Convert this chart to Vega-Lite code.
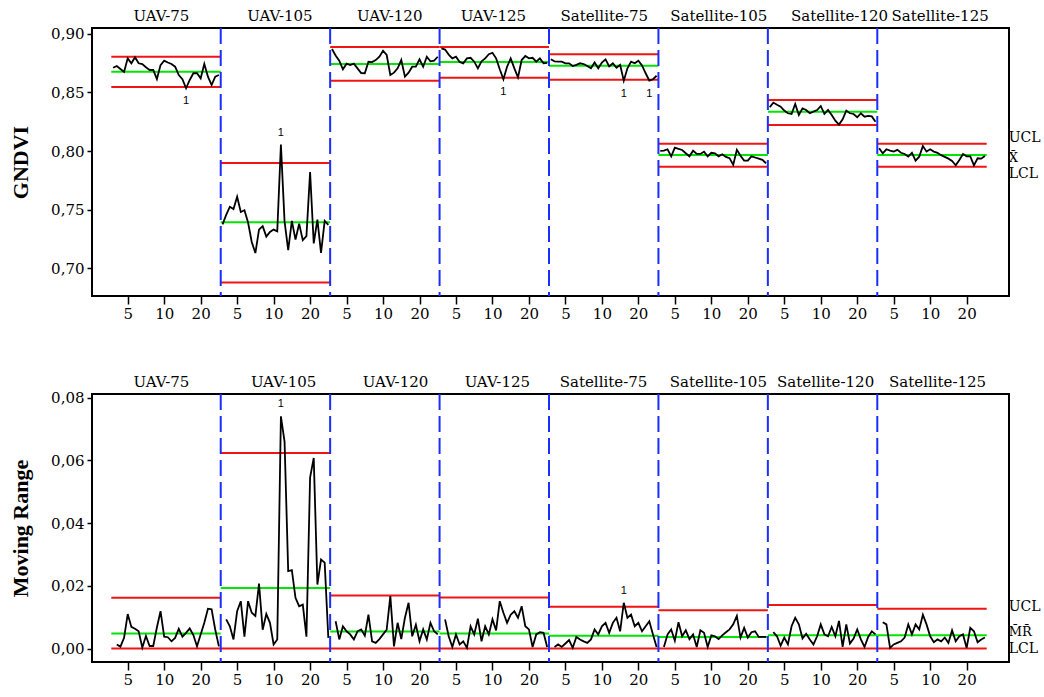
{
"$schema":"https://vega.github.io/schema/vega-lite/v6.json",
"autosize":{"type":"none"},
"padding":{"left":92,"top":28,"right":952,"bottom":669},
"background":"white",
"config":{
 "view":{"stroke":"black","strokeWidth":2},
 "axis":{"grid":false,"domain":false,"labelFont":"DejaVu Serif","labelColor":"black","tickColor":"black","titleFont":"Liberation Serif","titleFontWeight":"bold","titleFontSize":22,"titleColor":"black"},
 "axisY":{"tickCount":5,"tickSize":5,"tickWidth":1.5,"labelFontSize":15,"labelPadding":3,"labelExpr":"replace(format(datum.value, '.2f'), '.', ',')","titleX":-72,"titleAngle":-90,"titleBaseline":"middle","titleAlign":"center"}
},
"datasets":{
"lim":[
{"s":"UAV-75","x0":0.5,"x1":30.5,"iu":0.8804,"ic":0.8676,"il":0.8546,"mu":0.0162,"mc":0.0048,"ml":0},
{"s":"UAV-105","x0":30.5,"x1":60.5,"iu":0.7899,"ic":0.7393,"il":0.6879,"mu":0.0624,"mc":0.0193,"ml":0},
{"s":"UAV-120","x0":60.5,"x1":90.5,"iu":0.8888,"ic":0.8742,"il":0.86,"mu":0.0169,"mc":0.0054,"ml":0},
{"s":"UAV-125","x0":90.5,"x1":120.5,"iu":0.8888,"ic":0.8759,"il":0.8625,"mu":0.0163,"mc":0.0048,"ml":0},
{"s":"Satellite-75","x0":120.5,"x1":150.5,"iu":0.8825,"ic":0.8727,"il":0.8608,"mu":0.0133,"mc":0.0041,"ml":0},
{"s":"Satellite-105","x0":150.5,"x1":180.5,"iu":0.8063,"ic":0.7967,"il":0.7867,"mu":0.0122,"mc":0.0037,"ml":0},
{"s":"Satellite-120","x0":180.5,"x1":210.5,"iu":0.8435,"ic":0.8336,"il":0.8222,"mu":0.0139,"mc":0.0042,"ml":0},
{"s":"Satellite-125","x0":210.5,"x1":240.5,"iu":0.8063,"ic":0.7967,"il":0.7867,"mu":0.0127,"mc":0.0042,"ml":0}
],
"obs":[
{"s":"UAV-75","o":1,"g":0.871,"m":null},
{"s":"UAV-75","o":2,"g":0.8725,"m":0.0013},
{"s":"UAV-75","o":3,"g":0.870,"m":0.0006},
{"s":"UAV-75","o":4,"g":0.8675,"m":0.0034},
{"s":"UAV-75","o":5,"g":0.879,"m":0.011},
{"s":"UAV-75","o":6,"g":0.8748,"m":0.0069},
{"s":"UAV-75","o":7,"g":0.880,"m":0.0063},
{"s":"UAV-75","o":8,"g":0.8748,"m":0.0055},
{"s":"UAV-75","o":9,"g":0.8742,"m":0.0003},
{"s":"UAV-75","o":10,"g":0.8714,"m":0.004},
{"s":"UAV-75","o":11,"g":0.8691,"m":0.0008},
{"s":"UAV-75","o":12,"g":0.8691,"m":0.0008},
{"s":"UAV-75","o":13,"g":0.8614,"m":0.0067},
{"s":"UAV-75","o":14,"g":0.8733,"m":0.0119},
{"s":"UAV-75","o":15,"g":0.877,"m":0.0038},
{"s":"UAV-75","o":16,"g":0.8755,"m":0.0036},
{"s":"UAV-75","o":17,"g":0.8742,"m":0.0023},
{"s":"UAV-75","o":18,"g":0.8719,"m":0.0034},
{"s":"UAV-75","o":19,"g":0.8648,"m":0.0063},
{"s":"UAV-75","o":20,"g":0.8612,"m":0.0038},
{"s":"UAV-75","o":21,"g":0.8535,"m":0.005,"fi":"b"},
{"s":"UAV-75","o":22,"g":0.8606,"m":0.0064},
{"s":"UAV-75","o":23,"g":0.8663,"m":0.0043},
{"s":"UAV-75","o":24,"g":0.8663,"m":0.0007},
{"s":"UAV-75","o":25,"g":0.862,"m":0.0045},
{"s":"UAV-75","o":26,"g":0.8742,"m":0.0082},
{"s":"UAV-75","o":27,"g":0.8634,"m":0.0127},
{"s":"UAV-75","o":28,"g":0.8563,"m":0.0125},
{"s":"UAV-75","o":29,"g":0.8634,"m":0.006},
{"s":"UAV-75","o":30,"g":0.8648,"m":0.0007},
{"s":"UAV-105","o":31,"g":0.7375,"m":null},
{"s":"UAV-105","o":32,"g":0.7455,"m":0.0093},
{"s":"UAV-105","o":33,"g":0.7525,"m":0.0071},
{"s":"UAV-105","o":34,"g":0.7505,"m":0.0029},
{"s":"UAV-105","o":35,"g":0.761,"m":0.0119},
{"s":"UAV-105","o":36,"g":0.748,"m":0.0151},
{"s":"UAV-105","o":37,"g":0.7495,"m":0.0038},
{"s":"UAV-105","o":38,"g":0.739,"m":0.0151},
{"s":"UAV-105","o":39,"g":0.7225,"m":0.0114},
{"s":"UAV-105","o":40,"g":0.713,"m":0.0104},
{"s":"UAV-105","o":41,"g":0.733,"m":0.0207},
{"s":"UAV-105","o":42,"g":0.736,"m":0.006},
{"s":"UAV-105","o":43,"g":0.727,"m":0.011},
{"s":"UAV-105","o":44,"g":0.731,"m":0.0082},
{"s":"UAV-105","o":45,"g":0.733,"m":0.0013},
{"s":"UAV-105","o":46,"g":0.7315,"m":0.0029},
{"s":"UAV-105","o":47,"g":0.8055,"m":0.0741,"fi":"a","fm":"a"},
{"s":"UAV-105","o":48,"g":0.74,"m":0.066},
{"s":"UAV-105","o":49,"g":0.7155,"m":0.0247},
{"s":"UAV-105","o":50,"g":0.7405,"m":0.025},
{"s":"UAV-105","o":51,"g":0.7245,"m":0.0162},
{"s":"UAV-105","o":52,"g":0.738,"m":0.0135},
{"s":"UAV-105","o":53,"g":0.724,"m":0.014},
{"s":"UAV-105","o":54,"g":0.7275,"m":0.0038},
{"s":"UAV-105","o":55,"g":0.782,"m":0.0545},
{"s":"UAV-105","o":56,"g":0.7212,"m":0.0608},
{"s":"UAV-105","o":57,"g":0.7415,"m":0.0204},
{"s":"UAV-105","o":58,"g":0.7132,"m":0.0284},
{"s":"UAV-105","o":59,"g":0.7405,"m":0.0274},
{"s":"UAV-105","o":60,"g":0.737,"m":0.0034},
{"s":"UAV-120","o":61,"g":0.887,"m":null},
{"s":"UAV-120","o":62,"g":0.8815,"m":0.0087},
{"s":"UAV-120","o":63,"g":0.877,"m":0.0029},
{"s":"UAV-120","o":64,"g":0.8697,"m":0.0071},
{"s":"UAV-120","o":65,"g":0.8745,"m":0.0055},
{"s":"UAV-120","o":66,"g":0.8733,"m":0.0045},
{"s":"UAV-120","o":67,"g":0.8745,"m":0.0029},
{"s":"UAV-120","o":68,"g":0.8705,"m":0.0055},
{"s":"UAV-120","o":69,"g":0.8665,"m":0.0061},
{"s":"UAV-120","o":70,"g":0.8663,"m":0.0041},
{"s":"UAV-120","o":71,"g":0.8761,"m":0.0108},
{"s":"UAV-120","o":72,"g":0.8758,"m":0.0023},
{"s":"UAV-120","o":73,"g":0.8775,"m":0.0018},
{"s":"UAV-120","o":74,"g":0.8805,"m":0.003},
{"s":"UAV-120","o":75,"g":0.8855,"m":0.0045},
{"s":"UAV-120","o":76,"g":0.8819,"m":0.006},
{"s":"UAV-120","o":77,"g":0.8648,"m":0.0167},
{"s":"UAV-120","o":78,"g":0.8668,"m":0.0007},
{"s":"UAV-120","o":79,"g":0.8705,"m":0.0082},
{"s":"UAV-120","o":80,"g":0.8776,"m":0.003},
{"s":"UAV-120","o":81,"g":0.8634,"m":0.0098},
{"s":"UAV-120","o":82,"g":0.8668,"m":0.0146},
{"s":"UAV-120","o":83,"g":0.8719,"m":0.0039},
{"s":"UAV-120","o":84,"g":0.8719,"m":0.0076},
{"s":"UAV-120","o":85,"g":0.8782,"m":0.0023},
{"s":"UAV-120","o":86,"g":0.8719,"m":0.0061},
{"s":"UAV-120","o":87,"g":0.8804,"m":0.0029},
{"s":"UAV-120","o":88,"g":0.8765,"m":0.0082},
{"s":"UAV-120","o":89,"g":0.877,"m":0.0055},
{"s":"UAV-120","o":90,"g":0.8804,"m":0.0045},
{"s":"UAV-125","o":91,"g":0.8876,"m":null},
{"s":"UAV-125","o":92,"g":0.8865,"m":0.0093},
{"s":"UAV-125","o":93,"g":0.8822,"m":0.0039},
{"s":"UAV-125","o":94,"g":0.879,"m":0.0005},
{"s":"UAV-125","o":95,"g":0.8804,"m":0.0045},
{"s":"UAV-125","o":96,"g":0.876,"m":0.0013},
{"s":"UAV-125","o":97,"g":0.8748,"m":0.0023},
{"s":"UAV-125","o":98,"g":0.879,"m":0.0002},
{"s":"UAV-125","o":99,"g":0.8795,"m":0.0071},
{"s":"UAV-125","o":100,"g":0.8762,"m":0.0045},
{"s":"UAV-125","o":101,"g":0.8705,"m":0.0095},
{"s":"UAV-125","o":102,"g":0.8765,"m":0.0023},
{"s":"UAV-125","o":103,"g":0.879,"m":0.0071},
{"s":"UAV-125","o":104,"g":0.8825,"m":0.0045},
{"s":"UAV-125","o":105,"g":0.8838,"m":0.0093},
{"s":"UAV-125","o":106,"g":0.879,"m":0.0058},
{"s":"UAV-125","o":107,"g":0.8697,"m":0.0151},
{"s":"UAV-125","o":108,"g":0.8612,"m":0.0114,"fi":"b"},
{"s":"UAV-125","o":109,"g":0.8719,"m":0.0082},
{"s":"UAV-125","o":110,"g":0.879,"m":0.0108},
{"s":"UAV-125","o":111,"g":0.8705,"m":0.0119},
{"s":"UAV-125","o":112,"g":0.8628,"m":0.0098},
{"s":"UAV-125","o":113,"g":0.8776,"m":0.0135},
{"s":"UAV-125","o":114,"g":0.881,"m":0.0071},
{"s":"UAV-125","o":115,"g":0.879,"m":0.0061},
{"s":"UAV-125","o":116,"g":0.8795,"m":0.0005},
{"s":"UAV-125","o":117,"g":0.8762,"m":0.0045},
{"s":"UAV-125","o":118,"g":0.879,"m":0.0052},
{"s":"UAV-125","o":119,"g":0.8748,"m":0.005},
{"s":"UAV-125","o":120,"g":0.8752,"m":0.0005},
{"s":"Satellite-75","o":121,"g":0.8782,"m":null},
{"s":"Satellite-75","o":122,"g":0.8765,"m":0.0005},
{"s":"Satellite-75","o":123,"g":0.8762,"m":0.0013},
{"s":"Satellite-75","o":124,"g":0.8762,"m":0.0005},
{"s":"Satellite-75","o":125,"g":0.8748,"m":0.0016},
{"s":"Satellite-75","o":126,"g":0.8748,"m":0.0027},
{"s":"Satellite-75","o":127,"g":0.8725,"m":0.0002},
{"s":"Satellite-75","o":128,"g":0.8735,"m":0.0037},
{"s":"Satellite-75","o":129,"g":0.8748,"m":0.0029},
{"s":"Satellite-75","o":130,"g":0.8742,"m":0.0023},
{"s":"Satellite-75","o":131,"g":0.8725,"m":0.0018},
{"s":"Satellite-75","o":132,"g":0.8705,"m":0.0029},
{"s":"Satellite-75","o":133,"g":0.8755,"m":0.0061},
{"s":"Satellite-75","o":134,"g":0.8705,"m":0.0045},
{"s":"Satellite-75","o":135,"g":0.8755,"m":0.0071},
{"s":"Satellite-75","o":136,"g":0.8782,"m":0.0082},
{"s":"Satellite-75","o":137,"g":0.8722,"m":0.005},
{"s":"Satellite-75","o":138,"g":0.8748,"m":0.0082},
{"s":"Satellite-75","o":139,"g":0.871,"m":0.0098},
{"s":"Satellite-75","o":140,"g":0.8735,"m":0.0055},
{"s":"Satellite-75","o":141,"g":0.86,"m":0.0146,"fi":"b","fm":"a"},
{"s":"Satellite-75","o":142,"g":0.8705,"m":0.0098},
{"s":"Satellite-75","o":143,"g":0.8762,"m":0.0108},
{"s":"Satellite-75","o":144,"g":0.8748,"m":0.0071},
{"s":"Satellite-75","o":145,"g":0.877,"m":0.0082},
{"s":"Satellite-75","o":146,"g":0.873,"m":0.0055},
{"s":"Satellite-75","o":147,"g":0.8663,"m":0.0071},
{"s":"Satellite-75","o":148,"g":0.86,"m":0.0087,"fi":"b"},
{"s":"Satellite-75","o":149,"g":0.8612,"m":0.0045},
{"s":"Satellite-75","o":150,"g":0.8642,"m":0.0005},
{"s":"Satellite-105","o":151,"g":0.8001,"m":null},
{"s":"Satellite-105","o":152,"g":0.8003,"m":0.0005},
{"s":"Satellite-105","o":153,"g":0.8015,"m":0.0045},
{"s":"Satellite-105","o":154,"g":0.7955,"m":0.0061},
{"s":"Satellite-105","o":155,"g":0.8029,"m":0.0025},
{"s":"Satellite-105","o":156,"g":0.8018,"m":0.0084},
{"s":"Satellite-105","o":157,"g":0.8009,"m":0.0039},
{"s":"Satellite-105","o":158,"g":0.7981,"m":0.0058},
{"s":"Satellite-105","o":159,"g":0.7955,"m":0.003},
{"s":"Satellite-105","o":160,"g":0.8003,"m":0.0045},
{"s":"Satellite-105","o":161,"g":0.7975,"m":0.0005},
{"s":"Satellite-105","o":162,"g":0.7975,"m":0.0058},
{"s":"Satellite-105","o":163,"g":0.7995,"m":0.005},
{"s":"Satellite-105","o":164,"g":0.7955,"m":0.0005},
{"s":"Satellite-105","o":165,"g":0.7985,"m":0.0042},
{"s":"Satellite-105","o":166,"g":0.7981,"m":0.0039},
{"s":"Satellite-105","o":167,"g":0.7955,"m":0.003},
{"s":"Satellite-105","o":168,"g":0.7973,"m":0.0042},
{"s":"Satellite-105","o":169,"g":0.795,"m":0.0052},
{"s":"Satellite-105","o":170,"g":0.7939,"m":0.0061},
{"s":"Satellite-105","o":171,"g":0.7882,"m":0.0077},
{"s":"Satellite-105","o":172,"g":0.801,"m":0.0104},
{"s":"Satellite-105","o":173,"g":0.796,"m":0.0035},
{"s":"Satellite-105","o":174,"g":0.7918,"m":0.0066},
{"s":"Satellite-105","o":175,"g":0.7918,"m":0.0035},
{"s":"Satellite-105","o":176,"g":0.7955,"m":0.0052},
{"s":"Satellite-105","o":177,"g":0.7945,"m":0.0055},
{"s":"Satellite-105","o":178,"g":0.7935,"m":0.0037},
{"s":"Satellite-105","o":179,"g":0.7925,"m":0.0037},
{"s":"Satellite-105","o":180,"g":0.7896,"m":0.0037},
{"s":"Satellite-120","o":181,"g":0.8373,"m":null},
{"s":"Satellite-120","o":182,"g":0.8413,"m":0.0052},
{"s":"Satellite-120","o":183,"g":0.8395,"m":0.0039},
{"s":"Satellite-120","o":184,"g":0.8378,"m":0.0009},
{"s":"Satellite-120","o":185,"g":0.8345,"m":0.0035},
{"s":"Satellite-120","o":186,"g":0.8322,"m":0.0013},
{"s":"Satellite-120","o":187,"g":0.8316,"m":0.0071},
{"s":"Satellite-120","o":188,"g":0.8401,"m":0.0098},
{"s":"Satellite-120","o":189,"g":0.8307,"m":0.0077},
{"s":"Satellite-120","o":190,"g":0.8364,"m":0.0032},
{"s":"Satellite-120","o":191,"g":0.835,"m":0.0047},
{"s":"Satellite-120","o":192,"g":0.8322,"m":0.0029},
{"s":"Satellite-120","o":193,"g":0.8336,"m":0.0013},
{"s":"Satellite-120","o":194,"g":0.835,"m":0.0039},
{"s":"Satellite-120","o":195,"g":0.8384,"m":0.0077},
{"s":"Satellite-120","o":196,"g":0.8316,"m":0.0045},
{"s":"Satellite-120","o":197,"g":0.835,"m":0.0039},
{"s":"Satellite-120","o":198,"g":0.8307,"m":0.0069},
{"s":"Satellite-120","o":199,"g":0.8259,"m":0.0039},
{"s":"Satellite-120","o":200,"g":0.8226,"m":0.0088},
{"s":"Satellite-120","o":201,"g":0.8271,"m":0.0005},
{"s":"Satellite-120","o":202,"g":0.8345,"m":0.0077},
{"s":"Satellite-120","o":203,"g":0.8322,"m":0.0016},
{"s":"Satellite-120","o":204,"g":0.8316,"m":0.0032},
{"s":"Satellite-120","o":205,"g":0.8288,"m":0.0061},
{"s":"Satellite-120","o":206,"g":0.8322,"m":0.0029},
{"s":"Satellite-120","o":207,"g":0.8293,"m":0.0005},
{"s":"Satellite-120","o":208,"g":0.8299,"m":0.0037},
{"s":"Satellite-120","o":209,"g":0.8295,"m":0.0055},
{"s":"Satellite-120","o":210,"g":0.825,"m":0.0045},
{"s":"Satellite-125","o":211,"g":0.8024,"m":null},
{"s":"Satellite-125","o":212,"g":0.7981,"m":0.0084},
{"s":"Satellite-125","o":213,"g":0.8015,"m":0.0077},
{"s":"Satellite-125","o":214,"g":0.8004,"m":0.0002},
{"s":"Satellite-125","o":215,"g":0.7995,"m":0.0013},
{"s":"Satellite-125","o":216,"g":0.801,"m":0.0018},
{"s":"Satellite-125","o":217,"g":0.7985,"m":0.0023},
{"s":"Satellite-125","o":218,"g":0.7975,"m":0.0035},
{"s":"Satellite-125","o":219,"g":0.7952,"m":0.0077},
{"s":"Satellite-125","o":220,"g":0.7985,"m":0.0045},
{"s":"Satellite-125","o":221,"g":0.7918,"m":0.0077},
{"s":"Satellite-125","o":222,"g":0.7952,"m":0.0061},
{"s":"Satellite-125","o":223,"g":0.8043,"m":0.0108},
{"s":"Satellite-125","o":224,"g":0.7995,"m":0.0077},
{"s":"Satellite-125","o":225,"g":0.8015,"m":0.0039},
{"s":"Satellite-125","o":226,"g":0.7995,"m":0.002},
{"s":"Satellite-125","o":227,"g":0.7985,"m":0.0029},
{"s":"Satellite-125","o":228,"g":0.7965,"m":0.0023},
{"s":"Satellite-125","o":229,"g":0.795,"m":0.0035},
{"s":"Satellite-125","o":230,"g":0.7935,"m":0.0018},
{"s":"Satellite-125","o":231,"g":0.7915,"m":0.0058},
{"s":"Satellite-125","o":232,"g":0.7878,"m":0.0023},
{"s":"Satellite-125","o":233,"g":0.7924,"m":0.0039},
{"s":"Satellite-125","o":234,"g":0.7975,"m":0.0045},
{"s":"Satellite-125","o":235,"g":0.7955,"m":0.0002},
{"s":"Satellite-125","o":236,"g":0.7955,"m":0.0066},
{"s":"Satellite-125","o":237,"g":0.7878,"m":0.0055},
{"s":"Satellite-125","o":238,"g":0.7938,"m":0.002},
{"s":"Satellite-125","o":239,"g":0.7935,"m":0.0029},
{"s":"Satellite-125","o":240,"g":0.7958,"m":0.0035}
]
},
"bounds":"flush",
"spacing":98,
"resolve":{"scale":{"x":"independent","y":"independent"}},
"vconcat":[
{
 "width":917,"height":268,
 "resolve":{"axis":{"x":"independent"}},
 "layer":[
  {"data":{"name":"lim"},"mark":{"type":"rule","color":"#f01414","strokeWidth":2},
   "encoding":{"x":{"field":"x0","type":"quantitative","scale":{"domain":[-4.79,246.61],"nice":false,"zero":false},
     "axis":{"orient":"top","title":null,"values":[14.1,46.6,76.7,105.1,135.5,166.9,200,227.6],"ticks":false,"labelPadding":5,"labelFontSize":15,"labelOverlap":false,"labelFlush":false,
       "labelExpr":"datum.value < 30 ? 'UAV-75' : datum.value < 60 ? 'UAV-105' : datum.value < 90 ? 'UAV-120' : datum.value < 120 ? 'UAV-125' : datum.value < 150 ? 'Satellite-75' : datum.value < 180 ? 'Satellite-105' : datum.value < 210 ? 'Satellite-120' : 'Satellite-125'"}},
    "x2":{"field":"x1"},
    "y":{"field":"iu","type":"quantitative","title":"GNDVI","scale":{"domain":[0.6764,0.9049],"nice":false,"zero":false}}}},
  {"data":{"name":"lim"},"mark":{"type":"rule","color":"#00e600","strokeWidth":2},
   "encoding":{"x":{"field":"x0","type":"quantitative","scale":{"domain":[-4.79,246.61],"nice":false,"zero":false},"axis":null},
    "x2":{"field":"x1"},
    "y":{"field":"ic","type":"quantitative","title":"GNDVI","scale":{"domain":[0.6764,0.9049],"nice":false,"zero":false}}}},
  {"data":{"name":"lim"},"mark":{"type":"rule","color":"#f01414","strokeWidth":2},
   "encoding":{"x":{"field":"x0","type":"quantitative","scale":{"domain":[-4.79,246.61],"nice":false,"zero":false},"axis":null},
    "x2":{"field":"x1"},
    "y":{"field":"il","type":"quantitative","title":"GNDVI","scale":{"domain":[0.6764,0.9049],"nice":false,"zero":false}}}},
  {"data":{"name":"lim"},"transform":[{"filter":"datum.x0 > 1"}],"mark":{"type":"rule","color":"#1a2eff","strokeWidth":2,"strokeDash":[16,6]},
   "encoding":{"x":{"field":"x0","type":"quantitative","scale":{"domain":[-4.79,246.61],"nice":false,"zero":false},"axis":null}}},
  {"data":{"name":"obs"},"mark":{"type":"line","color":"black","strokeWidth":1.8},
   "encoding":{"x":{"field":"o","type":"quantitative","scale":{"domain":[-4.79,246.61],"nice":false,"zero":false},
     "axis":{"orient":"bottom","title":null,"values":[5,15,25,35,45,55,65,75,85,95,105,115,125,135,145,155,165,175,185,195,205,215,225,235],"tickSize":8,"tickWidth":1.5,"labelFontSize":15,"labelPadding":2,"labelOverlap":false,"labelFlush":false,
       "labelExpr":"datum.value % 30 == 5 ? '5' : (datum.value % 30 == 15 ? '10' : '20')"}},
    "y":{"field":"g","type":"quantitative","title":"GNDVI","scale":{"domain":[0.6764,0.9049],"nice":false,"zero":false}},
    "detail":{"field":"s"}}},
  {"data":{"name":"obs"},"transform":[{"filter":"datum.fi == 'b'"}],"mark":{"type":"text","text":"1","dy":13,"font":"Liberation Sans","fontSize":11,"color":"black"},
   "encoding":{"x":{"field":"o","type":"quantitative","scale":{"domain":[-4.79,246.61],"nice":false,"zero":false},"axis":null},
    "y":{"field":"g","type":"quantitative","title":"GNDVI","scale":{"domain":[0.6764,0.9049],"nice":false,"zero":false}}}},
  {"data":{"name":"obs"},"transform":[{"filter":"datum.fi == 'a'"}],"mark":{"type":"text","text":"1","dy":-12,"font":"Liberation Sans","fontSize":11,"color":"black"},
   "encoding":{"x":{"field":"o","type":"quantitative","scale":{"domain":[-4.79,246.61],"nice":false,"zero":false},"axis":null},
    "y":{"field":"g","type":"quantitative","title":"GNDVI","scale":{"domain":[0.6764,0.9049],"nice":false,"zero":false}}}},
  {"data":{"name":"lim"},"transform":[{"filter":"datum.s == 'Satellite-125'"}],"mark":{"type":"text","text":"UCL","align":"left","dx":22,"dy":-6,"font":"DejaVu Serif","fontSize":14,"color":"black"},
   "encoding":{"x":{"field":"x1","type":"quantitative","scale":{"domain":[-4.79,246.61],"nice":false,"zero":false},"axis":null},
    "y":{"field":"iu","type":"quantitative","title":"GNDVI","scale":{"domain":[0.6764,0.9049],"nice":false,"zero":false}}}},
  {"data":{"name":"lim"},"transform":[{"filter":"datum.s == 'Satellite-125'"}],"mark":{"type":"text","text":"X̄","align":"left","dx":22,"dy":3,"font":"DejaVu Serif","fontSize":13,"color":"black"},
   "encoding":{"x":{"field":"x1","type":"quantitative","scale":{"domain":[-4.79,246.61],"nice":false,"zero":false},"axis":null},
    "y":{"field":"ic","type":"quantitative","title":"GNDVI","scale":{"domain":[0.6764,0.9049],"nice":false,"zero":false}}}},
  {"data":{"name":"lim"},"transform":[{"filter":"datum.s == 'Satellite-125'"}],"mark":{"type":"text","text":"LCL","align":"left","dx":22,"dy":7,"font":"DejaVu Serif","fontSize":14,"color":"black"},
   "encoding":{"x":{"field":"x1","type":"quantitative","scale":{"domain":[-4.79,246.61],"nice":false,"zero":false},"axis":null},
    "y":{"field":"il","type":"quantitative","title":"GNDVI","scale":{"domain":[0.6764,0.9049],"nice":false,"zero":false}}}}
 ]
},
{
 "width":917,"height":268,
 "resolve":{"axis":{"x":"independent"}},
 "layer":[
  {"data":{"name":"lim"},"mark":{"type":"rule","color":"#f01414","strokeWidth":2},
   "encoding":{"x":{"field":"x0","type":"quantitative","scale":{"domain":[-4.79,246.61],"nice":false,"zero":false},
     "axis":{"orient":"top","title":null,"values":[14.1,47.6,78.3,106.2,135.3,166.8,196.2,226.9],"ticks":false,"labelPadding":5,"labelFontSize":15,"labelOverlap":false,"labelFlush":false,
       "labelExpr":"datum.value < 30 ? 'UAV-75' : datum.value < 60 ? 'UAV-105' : datum.value < 90 ? 'UAV-120' : datum.value < 120 ? 'UAV-125' : datum.value < 150 ? 'Satellite-75' : datum.value < 180 ? 'Satellite-105' : datum.value < 210 ? 'Satellite-120' : 'Satellite-125'"}},
    "x2":{"field":"x1"},
    "y":{"field":"mu","type":"quantitative","title":"Moving Range","scale":{"domain":[-0.0043,0.0812],"nice":false,"zero":false}}}},
  {"data":{"name":"lim"},"mark":{"type":"rule","color":"#00e600","strokeWidth":2},
   "encoding":{"x":{"field":"x0","type":"quantitative","scale":{"domain":[-4.79,246.61],"nice":false,"zero":false},"axis":null},
    "x2":{"field":"x1"},
    "y":{"field":"mc","type":"quantitative","title":"Moving Range","scale":{"domain":[-0.0043,0.0812],"nice":false,"zero":false}}}},
  {"data":{"name":"lim"},"mark":{"type":"rule","color":"#f01414","strokeWidth":2},
   "encoding":{"x":{"field":"x0","type":"quantitative","scale":{"domain":[-4.79,246.61],"nice":false,"zero":false},"axis":null},
    "x2":{"field":"x1"},
    "y":{"field":"ml","type":"quantitative","title":"Moving Range","scale":{"domain":[-0.0043,0.0812],"nice":false,"zero":false}}}},
  {"data":{"name":"lim"},"transform":[{"filter":"datum.x0 > 1"}],"mark":{"type":"rule","color":"#1a2eff","strokeWidth":2,"strokeDash":[16,6]},
   "encoding":{"x":{"field":"x0","type":"quantitative","scale":{"domain":[-4.79,246.61],"nice":false,"zero":false},"axis":null}}},
  {"data":{"name":"obs"},"mark":{"type":"line","color":"black","strokeWidth":1.8},
   "encoding":{"x":{"field":"o","type":"quantitative","scale":{"domain":[-4.79,246.61],"nice":false,"zero":false},
     "axis":{"orient":"bottom","title":null,"values":[5,15,25,35,45,55,65,75,85,95,105,115,125,135,145,155,165,175,185,195,205,215,225,235],"tickSize":8,"tickWidth":1.5,"labelFontSize":15,"labelPadding":2,"labelOverlap":false,"labelFlush":false,
       "labelExpr":"datum.value % 30 == 5 ? '5' : (datum.value % 30 == 15 ? '10' : '20')"}},
    "y":{"field":"m","type":"quantitative","title":"Moving Range","scale":{"domain":[-0.0043,0.0812],"nice":false,"zero":false}},
    "detail":{"field":"s"}}},
  {"data":{"name":"obs"},"transform":[{"filter":"datum.fm == 'a'"}],"mark":{"type":"text","text":"1","dy":-12,"font":"Liberation Sans","fontSize":11,"color":"black"},
   "encoding":{"x":{"field":"o","type":"quantitative","scale":{"domain":[-4.79,246.61],"nice":false,"zero":false},"axis":null},
    "y":{"field":"m","type":"quantitative","title":"Moving Range","scale":{"domain":[-0.0043,0.0812],"nice":false,"zero":false}}}},
  {"data":{"name":"lim"},"transform":[{"filter":"datum.s == 'Satellite-125'"}],"mark":{"type":"text","text":"UCL","align":"left","dx":22,"dy":-2,"font":"DejaVu Serif","fontSize":14,"color":"black"},
   "encoding":{"x":{"field":"x1","type":"quantitative","scale":{"domain":[-4.79,246.61],"nice":false,"zero":false},"axis":null},
    "y":{"field":"mu","type":"quantitative","title":"Moving Range","scale":{"domain":[-0.0043,0.0812],"nice":false,"zero":false}}}},
  {"data":{"name":"lim"},"transform":[{"filter":"datum.s == 'Satellite-125'"}],"mark":{"type":"text","text":"M̄R̄","align":"left","dx":22,"dy":-3,"font":"DejaVu Serif","fontSize":13,"color":"black"},
   "encoding":{"x":{"field":"x1","type":"quantitative","scale":{"domain":[-4.79,246.61],"nice":false,"zero":false},"axis":null},
    "y":{"field":"mc","type":"quantitative","title":"Moving Range","scale":{"domain":[-0.0043,0.0812],"nice":false,"zero":false}}}},
  {"data":{"name":"lim"},"transform":[{"filter":"datum.s == 'Satellite-125'"}],"mark":{"type":"text","text":"LCL","align":"left","dx":22,"dy":0,"font":"DejaVu Serif","fontSize":14,"color":"black"},
   "encoding":{"x":{"field":"x1","type":"quantitative","scale":{"domain":[-4.79,246.61],"nice":false,"zero":false},"axis":null},
    "y":{"field":"ml","type":"quantitative","title":"Moving Range","scale":{"domain":[-0.0043,0.0812],"nice":false,"zero":false}}}}
 ]
}
]
}
